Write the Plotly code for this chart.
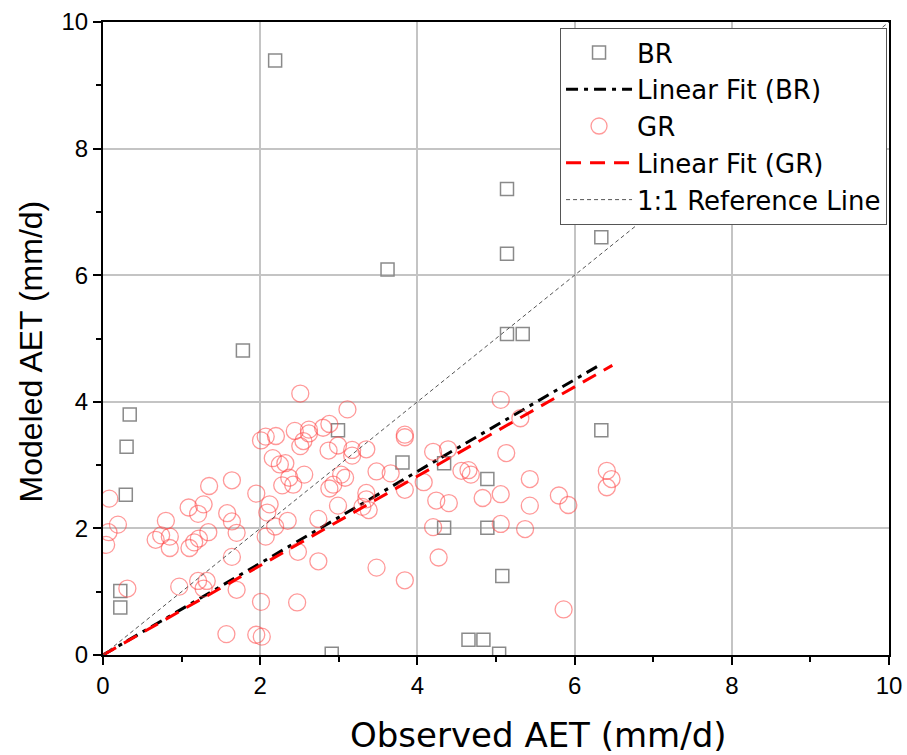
import plotly.graph_objects as go

# ---- Data ----
br_x = [2.19, 1.78, 3.62, 5.14, 5.14, 5.14, 5.34, 6.34, 0.34, 0.30, 0.29, 0.22, 0.22,
        2.91, 2.99, 3.81, 4.34, 4.89, 4.34, 4.89, 5.08, 4.65, 4.84, 5.04, 6.34]
br_y = [9.39, 4.81, 6.09, 7.36, 6.34, 5.07, 5.07, 6.60, 3.80, 3.29, 2.53, 1.01, 0.75,
        0.02, 3.55, 3.04, 3.03, 2.78, 2.01, 2.01, 1.25, 0.24, 0.24, 0.02, 3.55]

gr_x = [0.04, 0.07, 0.08, 0.19, 0.31,
        0.67, 0.74, 0.80, 0.85, 0.85, 0.97,
        1.09, 1.21, 1.28, 1.35, 1.10, 1.16, 1.22, 1.34, 1.21, 1.32, 1.28,
        1.64, 1.58, 1.64, 1.70, 1.64, 1.70, 1.57,
        1.95, 2.01, 2.07, 2.20, 2.12, 2.09, 2.19, 2.07, 2.01, 1.95, 2.02,
        2.16, 2.25, 2.32, 2.37, 2.42, 2.28, 2.35, 2.44, 2.51, 2.55, 2.51, 2.48, 2.47, 2.56,
        2.62, 2.62, 2.80, 2.88, 2.87, 2.99, 2.74, 2.74, 2.93, 2.88, 2.99, 3.03, 3.08,
        3.11, 3.17, 3.17, 3.35, 3.35, 3.35, 3.30, 3.38,
        3.48, 3.66, 3.84, 3.84, 3.84, 4.08, 4.20, 4.39, 4.24, 4.40, 4.20, 4.27, 3.48, 3.84,
        4.56, 4.65, 4.68, 4.83, 5.06, 5.06, 5.13, 5.06, 5.31, 5.43, 5.43, 5.37,
        5.80, 5.92, 5.86, 6.41, 6.47, 6.41]
gr_y = [1.74, 1.94, 2.47, 2.06, 1.05,
        1.82, 1.89, 2.12, 1.87, 1.69, 1.08,
        2.33, 2.23, 2.38, 2.67, 1.69, 1.78, 1.84, 1.94, 1.17, 1.17, 1.05,
        2.76, 2.24, 2.11, 1.93, 1.55, 1.03, 0.33,
        2.55, 3.39, 3.45, 3.46, 2.38, 2.25, 2.03, 1.87, 0.84, 0.32, 0.29,
        3.11, 3.01, 3.03, 2.80, 2.69, 2.68, 2.12, 3.54, 3.30, 3.38, 4.13, 1.63, 0.83, 2.85,
        3.56, 3.50, 3.59, 3.65, 3.23, 3.31, 2.15, 1.48, 2.69, 2.63, 2.36, 2.85, 2.80,
        3.88, 3.24, 3.15, 3.25, 2.56, 2.46, 2.34, 2.29,
        2.90, 2.87, 2.61, 3.48, 3.44, 2.73, 3.21, 3.25, 2.44, 2.40, 2.02, 1.54, 1.38, 1.18,
        2.91, 2.92, 2.85, 2.48, 2.54, 2.07, 3.19, 4.03, 3.74, 2.78, 2.36, 1.99,
        2.52, 2.37, 0.72, 2.91, 2.78, 2.65]

# Linear fits (through origin), slope and x-extent
br_fit_slope = 0.725
br_fit_xmax = 6.32
gr_fit_slope = 0.706
gr_fit_xmax = 6.48
ref_range = [0, 10]

x_ticks = [0, 2, 4, 6, 8, 10]
y_ticks = [0, 2, 4, 6, 8, 10]

x_title = "Observed AET (mm/d)"
y_title = "Modeled AET (mm/d)"

FONT = "Liberation Sans, Arial, sans-serif"
WIDE = "DejaVu Sans, Liberation Sans, sans-serif"

fig = go.Figure()
fig.add_trace(go.Scatter(
    x=br_x, y=br_y, mode="markers", name="BR",
    marker=dict(symbol="square-open", size=13, color="#8a8a8a", line=dict(width=1.5, color="#8a8a8a")),
))
fig.add_trace(go.Scatter(
    x=[0, br_fit_xmax], y=[0, br_fit_slope * br_fit_xmax], mode="lines", name="Linear Fit (BR)",
    line=dict(color="black", width=3, dash="12px,6px,4px,6px"),
))
fig.add_trace(go.Scatter(
    x=gr_x, y=gr_y, mode="markers", name="GR",
    marker=dict(symbol="circle-open", size=17, color="rgba(255,70,70,0.55)", line=dict(width=1.3, color="rgba(255,70,70,0.55)")),
))
fig.add_trace(go.Scatter(
    x=[0, gr_fit_xmax], y=[0, gr_fit_slope * gr_fit_xmax], mode="lines", name="Linear Fit (GR)",
    line=dict(color="red", width=3, dash="15px,9px"),
))
fig.add_trace(go.Scatter(
    x=ref_range, y=ref_range, mode="lines", name="1:1 Reference Line",
    line=dict(color="#555555", width=1, dash="4px,3px"),
))

axis_common = dict(
    range=[0, 10], showline=True, linecolor="black", linewidth=2, mirror=True,
    ticks="outside", ticklen=8, tickwidth=2, tickcolor="black",
    showgrid=True, gridcolor="#c4c4c4", gridwidth=1.5, zeroline=False,
    tickfont=dict(family=FONT, size=24, color="black"),
    minor=dict(ticks="outside", ticklen=5, tickwidth=2, tickcolor="black", dtick=1, showgrid=False),
    automargin=False,
)

fig.update_layout(
    width=907, height=755,
    margin=dict(l=103, r=18, t=22, b=100, autoexpand=False),
    plot_bgcolor="white", paper_bgcolor="white",
    font=dict(family=FONT, color="black"),
    showlegend=True,
    legend=dict(
        x=0.9975, y=0.9905, xanchor="right", yanchor="top",
        bgcolor="white", bordercolor="#555555", borderwidth=1,
        font=dict(family=WIDE, size=26, color="black"),
        tracegroupgap=0, itemwidth=66,
    ),
    xaxis=dict(tickvals=x_ticks, ticktext=[str(v) for v in x_ticks], **axis_common),
    yaxis=dict(tickvals=y_ticks, ticktext=[str(v) for v in y_ticks], **axis_common),
    annotations=[
        dict(text=x_title, xref="paper", yref="paper", x=0.5547, y=-0.1264,
             xanchor="center", yanchor="middle", showarrow=False,
             font=dict(family=WIDE, size=34, color="black")),
        dict(text=y_title, xref="paper", yref="paper", x=-0.0916, y=0.4795,
             xanchor="center", yanchor="middle", showarrow=False, textangle=-90,
             font=dict(family=FONT, size=32, color="black")),
    ],
)

fig.write_html("out.html")
